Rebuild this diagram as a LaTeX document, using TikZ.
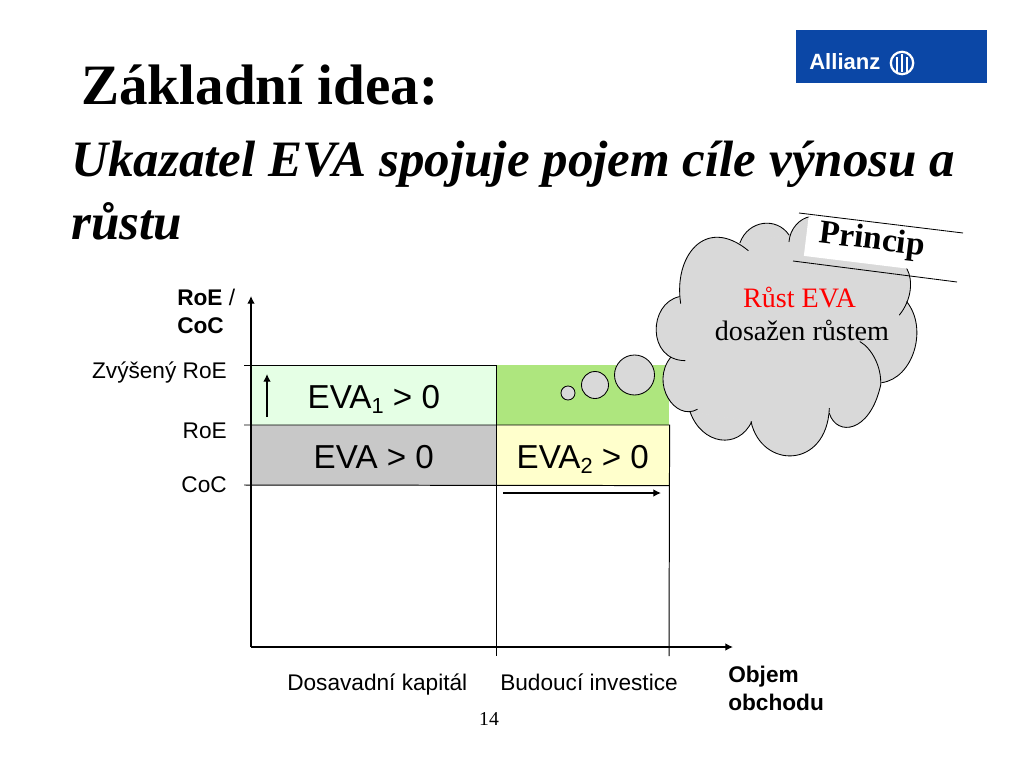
\documentclass[tikz,border=0pt]{standalone}
\usepackage{fontspec}
\setmainfont{Liberation Serif}
\newfontfamily\arialfont{Liberation Sans}
\usetikzlibrary{arrows.meta}
\definecolor{logoblue}{HTML}{0B47A6}
\definecolor{cloudgray}{HTML}{D9D9D9}
\definecolor{palegreen}{HTML}{E5FFE5}
\definecolor{leafgreen}{HTML}{AEE67E}
\definecolor{paleyellow}{HTML}{FFFFCC}
\definecolor{evagray}{HTML}{C8C8C8}
\newcommand{\evasub}[1]{\raisebox{-0.3ex}{\fontsize{15.5}{15.5}\selectfont #1}}
\newcommand{\lobelist}{{(447,125)/(450,85)/(480,55)/(510,50)},{(300,128)/(325,60)/(410,50)/(447,105)},{(122,310)/(100,170)/(195,45)/(325,152)},{(135,482)/(20,480)/(25,310)/(118,290)},{(172,628)/(105,665)/(30,550)/(92,472)},{(150,635)/(185,735)/(295,750)/(335,665)},{(333,665)/(365,808)/(560,808)/(568,625)},{(568,640)/(590,710)/(690,700)/(722,555)},{(722,555)/(725,500)/(695,445)/(660,425)},{(725,548)/(820,535)/(865,385)/(800,305)},{(778,345)/(815,300)/(820,240)/(800,205)}}
\tikzset{box/.style = {rectangle, anchor=north west, inner sep=0pt, minimum height=1.5cm, text height=18.4pt, text depth=0pt, font=\arialfont\fontsize{23.6}{23.6}\selectfont},
         label/.style = {inner sep=0pt, font=\arialfont\fontsize{16.1}{16.1}\selectfont},
         serif/.style = {inner sep=0pt, font=\fontsize{20}{20}\selectfont},
         axis/.style = {line width=1pt, -{Latex[length=5.5pt,width=5.5pt]}},
         lobe/.style = {line width=0.6pt, line cap=round},
         bubble/.style = {circle, draw, fill=cloudgray, inner sep=0pt, line width=0.6pt}}

\begin{document}
\begin{tikzpicture}[x=0.025cm,y=-0.025cm]
    \useasboundingbox(0,0)rectangle(1024,768);
    % logo
    \node[rectangle, fill=logoblue, anchor=north west, minimum width=4.775cm, minimum height=1.325cm](logo)at(796,30){};
    \node[anchor=base west, inner sep=0pt, text=white, font=\arialfont\bfseries\fontsize{15.7}{15.7}\selectfont](allianz)at(809,70){Allianz};
    \node[circle, draw=white, line width=1.6pt, minimum size=0.56cm, inner sep=0pt](ring)at(902,63){};
    \foreach \i/\t in {-5/-6,0/-9,5/-6}
        \draw[white, line width=1.6pt](902+\i,63+\t)--(902+\i,72);
    % headings
    \node[anchor=base west, inner sep=0pt, font=\bfseries\fontsize{40.6}{40.6}\selectfont](title)at(81,105){Základní idea:};
    \node[anchor=base west, inner sep=0pt, font=\bfseries\itshape\fontsize{36.3}{36.3}\selectfont](sub1)at(71,177){Ukazatel EVA spojuje pojem cíle výnosu a};
    \node[anchor=base west, inner sep=0pt, font=\bfseries\itshape\fontsize{36.3}{36.3}\selectfont](sub2)at(71,239){růstu};
    % boxes
    \node[box, fill=palegreen, minimum width=6.125cm](eva1)at(251,365){EVA\evasub{1} > 0};
    \node[box, fill=evagray, minimum width=6.125cm](eva)at(251,425){EVA > 0};
    \node[box, fill=leafgreen, minimum width=4.325cm](gain)at(496,365){};
    \node[box, fill=paleyellow, minimum width=4.325cm](eva2)at(496,425){EVA\evasub{2} > 0};
    % axes
    \coordinate(o)at(251,647);
    \coordinate(ytop)at(251,296);
    \coordinate(xend)at(733,647);
    \coordinate(t1)at(244,365);
    \coordinate(t2)at(244,425);
    \coordinate(t3)at(244,485);
    \coordinate(v1)at(496,656);
    \coordinate(v2)at(669,656);
    \draw[line width=0.7pt](t1)--(gain.north west)--(v1);
    \draw[line width=0.7pt](t2)--(eva2.north east)--(v2);
    \draw[line width=0.7pt](t3)--(eva2.south east);
    \draw[axis](o)--(ytop);
    \draw[axis](o)--(xend);
    \coordinate(up0)at(267,417);
    \coordinate(up1)at(267,374);
    \coordinate(right0)at(503,493);
    \coordinate(right1)at(661,493);
    \draw[axis](up0)--(up1);
    \draw[axis](right0)--(right1);
    % labels
    \node[label, anchor=base west](ylab1)at(177,305){\textbf{RoE} /};
    \node[label, anchor=base west](ylab2)at(177,333){\textbf{CoC}};
    \node[label, anchor=base east](zvys)at(227,378){Zvýšený RoE};
    \node[label, anchor=base east](roe)at(227,438){RoE};
    \node[label, anchor=base east](coc)at(227,492){CoC};
    \node[label, anchor=base west](kap)at(287,690){Dosavadní kapitál};
    \node[label, anchor=base west](inv)at(500,690){Budoucí investice};
    \node[label, anchor=base west](xlab1)at(728,682){\textbf{Objem}};
    \node[label, anchor=base west](xlab2)at(728,710){\textbf{obchodu}};
    \node[anchor=base, inner sep=0pt, font=\fontsize{14}{14}\selectfont](page)at(489,725){14};
    % cloud
    \node[bubble, minimum size=0.35cm](b1)at(568,393){};
    \node[bubble, minimum size=0.675cm](b2)at(595,385){};
    \node[bubble, minimum size=1cm](b3)at(634.5,375){};
    \begin{scope}[shift={(640,200)},x=0.008333cm,y=-0.008333cm]
        \filldraw[cloudgray, line width=0.5pt](510,50)--(447,105)--(300,128)--(122,300)--(92,472)--(150,635)--(335,665)--(568,640)--(722,555)--(725,548)--(800,305)--(800,205)--cycle;
        \foreach \a/\b/\c/\d in \lobelist
            \filldraw[cloudgray, line width=0.5pt]\a..controls\b and\c..\d--cycle;
        \foreach \a/\b/\c/\d in \lobelist
            \draw[lobe]\a..controls\b and\c..\d;
    \end{scope}
    \node[serif, text=red, anchor=base](rust)at(799.5,307){Růst EVA};
    \node[serif, anchor=base](dosazen)at(802,340){dosažen růstem};
    % princip
    \coordinate(p1)at(799,213);
    \coordinate(p2)at(963,233);
    \coordinate(p3)at(793,261);
    \coordinate(p4)at(957,282);
    \node[fill=white, rotate=-7, minimum width=4cm, minimum height=1cm, inner sep=0pt, anchor=west](princip)at(806,236){};
    \node[rotate=-7, inner sep=0pt, font=\bfseries\fontsize{23.7}{23.7}\selectfont](princt)at(872,241){Princip};
    \draw[line width=0.6pt](p1)--(p2);
    \draw[line width=0.6pt](p3)--(p4);
\end{tikzpicture}
\end{document}
